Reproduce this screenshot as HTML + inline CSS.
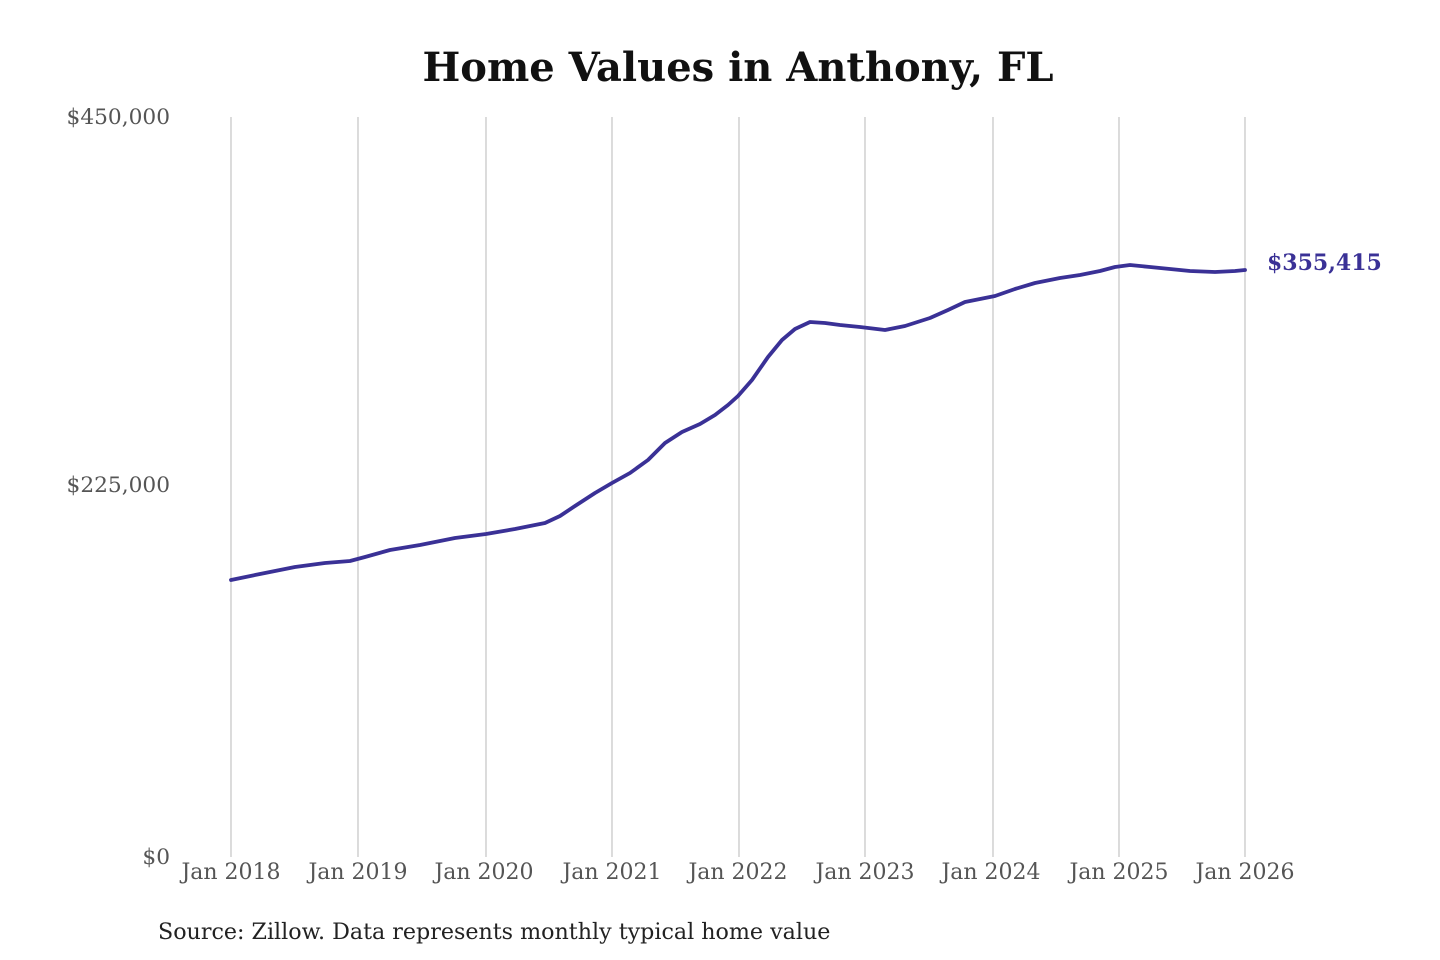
<!DOCTYPE html>
<html><head><meta charset="utf-8"><style>
html,body{margin:0;padding:0;background:#fff;}
svg{display:block;}
</style></head><body>
<svg width="1440" height="960" viewBox="0 0 1440 960" xmlns="http://www.w3.org/2000/svg">
<rect width="1440" height="960" fill="#fff"/>
<text x="738" y="81" text-anchor="middle" font-family="DejaVu Serif, serif" font-weight="bold" font-size="40" fill="#111">Home Values in Anthony, FL</text>
<g stroke="#c8c8c8" stroke-width="1.3">
<line x1="231" y1="117" x2="231" y2="857"/>
<line x1="358" y1="117" x2="358" y2="857"/>
<line x1="486" y1="117" x2="486" y2="857"/>
<line x1="612" y1="117" x2="612" y2="857"/>
<line x1="739" y1="117" x2="739" y2="857"/>
<line x1="865" y1="117" x2="865" y2="857"/>
<line x1="993" y1="117" x2="993" y2="857"/>
<line x1="1119" y1="117" x2="1119" y2="857"/>
<line x1="1245" y1="117" x2="1245" y2="857"/>
</g>
<g font-family="DejaVu Serif, serif" font-size="21.7" fill="#555">
<text x="170" y="124" text-anchor="end">$450,000</text>
<text x="170" y="492" text-anchor="end">$225,000</text>
<text x="170" y="864" text-anchor="end">$0</text>
<g text-anchor="middle" font-size="22">
<text x="231" y="879">Jan 2018</text>
<text x="358" y="879">Jan 2019</text>
<text x="484" y="879">Jan 2020</text>
<text x="612" y="879">Jan 2021</text>
<text x="738" y="879">Jan 2022</text>
<text x="865" y="879">Jan 2023</text>
<text x="991" y="879">Jan 2024</text>
<text x="1119" y="879">Jan 2025</text>
<text x="1245" y="879">Jan 2026</text>
</g></g>
<path fill="none" stroke="#3a3196" stroke-width="3.8" stroke-linejoin="round" stroke-linecap="round"
d="M231,580 L260,574 L295,567 L325,563 L350,561 L365,557 L390,550 L420,545 L455,538 L486,534 L515,529 L545,523 L560,516 L575,506 L595,493 L612,483 L630,473 L648,460 L665,443 L682,432 L700,424 L715,415 L728,405 L738,396 L752,380 L768,357 L782,340 L795,329 L810,322 L825,323 L840,325 L860,327 L885,330 L905,326 L930,318 L948,310 L965,302 L980,299 L995,296 L1015,289 L1035,283 L1060,278 L1080,275 L1100,271 L1115,267 L1130,265 L1150,267 L1170,269 L1190,271 L1215,272 L1235,271 L1245,270"/>
<text x="1267" y="270" font-family="DejaVu Serif, serif" font-weight="bold" font-size="22" fill="#3a3196">$355,415</text>
<text x="158" y="939" font-family="DejaVu Serif, serif" font-size="22.2" fill="#222">Source: Zillow. Data represents monthly typical home value</text>
</svg>
</body></html>
